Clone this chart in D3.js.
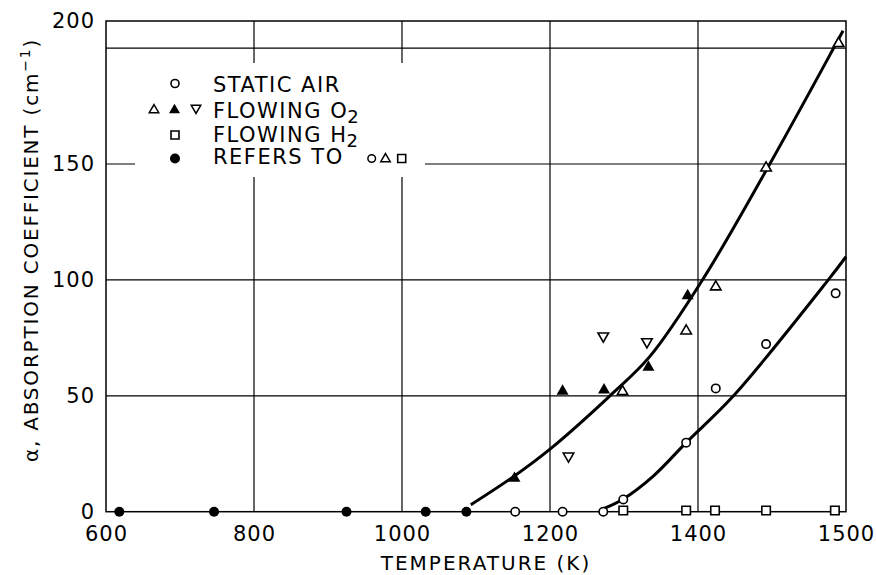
<!DOCTYPE html>
<html>
<head>
<meta charset="utf-8">
<script src="https://cdn.jsdelivr.net/npm/d3@7/dist/d3.min.js"></script>
<style>
  html, body { margin: 0; padding: 0; background: #fff; }
  svg { display: block; }
  text { font-family: "DejaVu Sans", sans-serif; fill: #000; }
</style>
</head>
<body>
<svg id="chart" width="876" height="575"></svg>
<script>
// ---- Data ----
// x tick positions on the (uniform) grid and the labels printed under them
const xTickValues = [600, 800, 1000, 1200, 1400, 1600];
const xTickLabels = ["600", "800", "1000", "1200", "1400", "1500"];
const yTickValues = [0, 50, 100, 150, 211.7];
const yTickLabels = ["0", "50", "100", "150", "200"];
const xGridValues = [800, 1000, 1200, 1400];
const yGridValues = [50, 100, 150, 200];

// Static air (open circles)
const airX = [1153, 1217, 1272, 1299, 1384, 1424, 1492, 1586];
const airY = [0, 0, 0, 5.3, 29.8, 53.2, 72.3, 94.2];
// Flowing O2 (open triangles up)
const o2UpX = [1298, 1384, 1424, 1492, 1590];
const o2UpY = [51.8, 78, 97, 148.3, 202];
// Flowing O2 (filled triangles up)
const o2FillX = [1152, 1217, 1273, 1333, 1386];
const o2FillY = [14.4, 52, 52.5, 62.3, 93.2];
// Flowing O2 (open triangles down)
const o2DownX = [1225, 1272, 1331];
const o2DownY = [24, 75.8, 73.3];
// Flowing H2 (open squares)
const h2X = [1299, 1384, 1423, 1492, 1585];
const h2Y = [0.5, 0.5, 0.5, 0.5, 0.5];
// Filled circles ("refers to")
const refX = [618, 746, 925, 1032, 1087];
const refY = [0, 0, 0, 0, 0];

// Fitted curves
const fitO2X = [1093, 1150, 1200, 1281, 1335, 1408, 1497, 1585, 1596];
const fitO2Y = [3, 15, 27, 50, 67, 101, 150, 201, 207.5];
const fitAirX = [1274, 1299, 1340, 1384, 1448, 1576, 1600];
const fitAirY = [1.5, 5.5, 15.5, 29.8, 50, 100, 110];

const legendLabels = ["STATIC AIR", "FLOWING O", "FLOWING H", "REFERS TO"];
const legendSubs = ["", "2", "2", ""];

// ---- Layout ----
const svg = d3.select("#chart");
const pLeft = 106, pRight = 846, pTop = 21, pBottom = 511.7;

const x = d3.scaleLinear().domain([600, 1600]).range([pLeft, pRight]);
const y = d3.scaleLinear().domain([0, 211.7]).range([pBottom, pTop]);

const ink = "#000";

// grid
const grid = svg.append("g").attr("stroke", ink).attr("stroke-width", 1.2);
grid.selectAll("line.v").data(xGridValues).join("line")
  .attr("x1", d => x(d)).attr("x2", d => x(d))
  .attr("y1", pTop).attr("y2", pBottom);
grid.selectAll("line.h").data(yGridValues).join("line")
  .attr("x1", pLeft).attr("x2", pRight)
  .attr("y1", d => y(d)).attr("y2", d => y(d));

// frame
svg.append("rect").attr("x", pLeft).attr("y", pTop)
  .attr("width", pRight - pLeft).attr("height", pBottom - pTop)
  .attr("fill", "none").attr("stroke", ink).attr("stroke-width", 1.5);

// axes tick labels
const xAxis = d3.axisBottom(x).tickValues(xTickValues)
  .tickFormat((d, i) => xTickLabels[i]).tickSize(0).tickPadding(14);
const gx = svg.append("g").attr("transform", `translate(0,${pBottom})`).call(xAxis);
gx.select(".domain").remove();
gx.selectAll("text").attr("font-size", 21).attr("letter-spacing", 1)
  .attr("font-family", "DejaVu Sans").attr("fill", ink).attr("dy", "0.71em");

const yAxis = d3.axisLeft(y).tickValues(yTickValues)
  .tickFormat((d, i) => yTickLabels[i]).tickSize(0).tickPadding(11);
const gy = svg.append("g").attr("transform", `translate(${pLeft},0)`).call(yAxis);
gy.select(".domain").remove();
gy.selectAll("text").attr("font-size", 21).attr("letter-spacing", 1)
  .attr("font-family", "DejaVu Sans").attr("fill", ink);

// axis titles
svg.append("text").attr("x", 486).attr("y", 570)
  .attr("text-anchor", "middle").attr("font-size", 20).attr("letter-spacing", 2)
  .text("TEMPERATURE (K)");

const yt = svg.append("text")
  .attr("transform", "translate(38,250) rotate(-90)")
  .attr("text-anchor", "middle").attr("font-size", 20).attr("letter-spacing", 1.8);
yt.append("tspan").text("α, ABSORPTION COEFFICIENT (cm");
yt.append("tspan").attr("font-size", 14).attr("dy", -8).text("−1");
yt.append("tspan").attr("dy", 8).text(")");

// legend box (white, hides grid)
svg.append("rect").attr("x", 135).attr("y", 63).attr("width", 290).attr("height", 114)
  .attr("fill", "#fff");

// ---- marker shapes ----
function tri(s, down) {
  const h = s * Math.sqrt(3) / 2;
  return down
    ? `M${-s/2},${-h/3}L${s/2},${-h/3}L0,${2*h/3}Z`
    : `M0,${-2*h/3}L${s/2},${h/3}L${-s/2},${h/3}Z`;
}
function sq(s) { return `M${-s/2},${-s/2}h${s}v${s}h${-s}Z`; }

// curves
const line = d3.line().x(d => x(d[0])).y(d => y(d[1])).curve(d3.curveCatmullRom.alpha(0.5));
svg.append("path").datum(d3.zip(fitO2X, fitO2Y)).attr("d", line)
  .attr("fill", "none").attr("stroke", ink).attr("stroke-width", 3);
svg.append("path").datum(d3.zip(fitAirX, fitAirY)).attr("d", line)
  .attr("fill", "none").attr("stroke", ink).attr("stroke-width", 3);

// points
const pts = svg.append("g");
pts.selectAll("circle.air").data(d3.zip(airX, airY)).join("circle")
  .attr("cx", d => x(d[0])).attr("cy", d => y(d[1])).attr("r", 4.2)
  .attr("fill", "#fff").attr("stroke", ink).attr("stroke-width", 1.6);
pts.selectAll("circle.ref").data(d3.zip(refX, refY)).join("circle")
  .attr("cx", d => x(d[0])).attr("cy", d => y(d[1])).attr("r", 5)
  .attr("fill", ink);
pts.selectAll("path.h2").data(d3.zip(h2X, h2Y)).join("path")
  .attr("transform", d => `translate(${x(d[0])},${y(d[1])})`).attr("d", sq(8.5))
  .attr("fill", "#fff").attr("stroke", ink).attr("stroke-width", 1.6);
pts.selectAll("path.up").data(d3.zip(o2UpX, o2UpY)).join("path")
  .attr("transform", d => `translate(${x(d[0])},${y(d[1])})`).attr("d", tri(10.5, false))
  .attr("fill", "#fff").attr("stroke", ink).attr("stroke-width", 1.6);
pts.selectAll("path.fill").data(d3.zip(o2FillX, o2FillY)).join("path")
  .attr("transform", d => `translate(${x(d[0])},${y(d[1])})`).attr("d", tri(12, false))
  .attr("fill", ink);
pts.selectAll("path.down").data(d3.zip(o2DownX, o2DownY)).join("path")
  .attr("transform", d => `translate(${x(d[0])},${y(d[1])})`).attr("d", tri(10.5, true))
  .attr("fill", "#fff").attr("stroke", ink).attr("stroke-width", 1.6);

// ---- legend ----
const lg = svg.append("g");
const rowsY = [92, 118, 142, 164];
legendLabels.forEach((lab, i) => {
  const t = lg.append("text").attr("x", 213).attr("y", rowsY[i])
    .attr("font-size", 21).attr("letter-spacing", 1.5);
  t.append("tspan").text(lab);
  if (legendSubs[i]) t.append("tspan").attr("font-size", 18).attr("dy", 5).attr("dx", -1).text(legendSubs[i]);
});
lg.append("circle").attr("cx", 175).attr("cy", 83.5).attr("r", 4)
  .attr("fill", "#fff").attr("stroke", ink).attr("stroke-width", 1.6);
lg.append("path").attr("transform", "translate(154,110)").attr("d", tri(9.5, false))
  .attr("fill", "#fff").attr("stroke", ink).attr("stroke-width", 1.5);
lg.append("path").attr("transform", "translate(174.5,110)").attr("d", tri(11, false))
  .attr("fill", ink);
lg.append("path").attr("transform", "translate(196,108)").attr("d", tri(9.5, true))
  .attr("fill", "#fff").attr("stroke", ink).attr("stroke-width", 1.5);
lg.append("path").attr("transform", "translate(175,135)").attr("d", sq(8))
  .attr("fill", "#fff").attr("stroke", ink).attr("stroke-width", 1.6);
lg.append("circle").attr("cx", 175).attr("cy", 158.5).attr("r", 5).attr("fill", ink);
lg.append("circle").attr("cx", 371.7).attr("cy", 158.5).attr("r", 3.8)
  .attr("fill", "#fff").attr("stroke", ink).attr("stroke-width", 1.5);
lg.append("path").attr("transform", "translate(385.5,159)").attr("d", tri(9.5, false))
  .attr("fill", "#fff").attr("stroke", ink).attr("stroke-width", 1.5);
lg.append("path").attr("transform", "translate(401.7,158.5)").attr("d", sq(8))
  .attr("fill", "#fff").attr("stroke", ink).attr("stroke-width", 1.6);
</script>
</body>
</html>
